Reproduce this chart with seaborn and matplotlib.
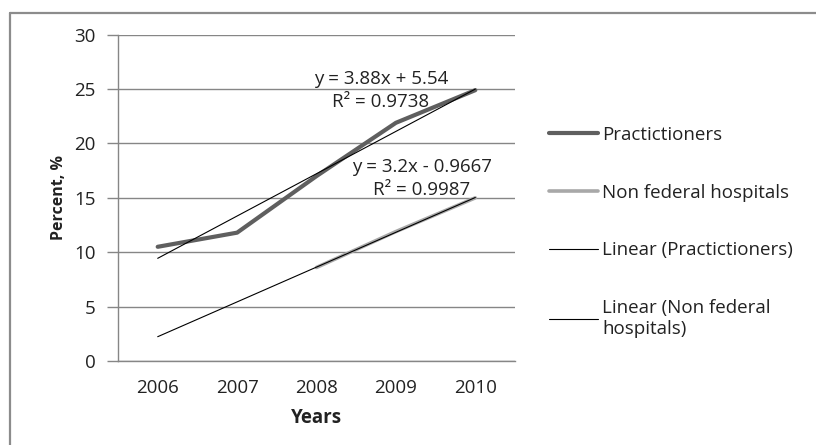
import numpy as np
import pandas as pd
import matplotlib
matplotlib.use("Agg")
import matplotlib.pyplot as plt
from matplotlib.lines import Line2D
import seaborn as sns

years = ["2006", "2007", "2008", "2009", "2010"]
practitioners = [10.5, 11.8, 17.0, 21.9, 24.9]
hospitals = [np.nan, np.nan, 8.6, 11.9, 15.0]
eq_practitioners = "y = 3.88x + 5.54\nR² = 0.9738"
eq_hospitals = "y = 3.2x - 0.9667\nR² = 0.9987"
y_ticks = [0, 5, 10, 15, 20, 25, 30]

sns.set_theme(style="white")
plt.rcParams["font.family"] = ["Open Sans", "DejaVu Sans"]

FS = 13.5
GRID = "#868686"
TXT = "#222222"

fig = plt.figure(figsize=(8.16, 4.45), dpi=100)
ax = fig.add_axes([118 / 816, 1 - 361 / 445, (515 - 118) / 816, (361 - 34.7) / 445])

pos = np.arange(len(years))
df = pd.DataFrame({"pos": pos, "Practictioners": practitioners,
                   "Non federal hospitals": hospitals})

sns.lineplot(data=df, x="pos", y="Practictioners", ax=ax, color="#5f5f5f",
             lw=3.0, solid_capstyle="round", zorder=3)
sns.lineplot(data=df.dropna(), x="pos", y="Non federal hospitals", ax=ax,
             color="#a8a8a8", lw=2.6, solid_capstyle="round", zorder=3)

# Linear trendlines fitted on x = 1..n (Excel category index)
xi = pos + 1
mask = ~np.isnan(np.array(hospitals))
cp = np.polyfit(xi, practitioners, 1)
ch = np.polyfit(xi[mask], np.array(hospitals)[mask], 1)
trend = pd.DataFrame({"pos": pos,
                      "tp": np.polyval(cp, xi),
                      "th": np.polyval(ch, xi)})
sns.lineplot(data=trend, x="pos", y="tp", ax=ax, color="black", lw=0.8, zorder=4)
sns.lineplot(data=trend, x="pos", y="th", ax=ax, color="black", lw=0.8, zorder=4)

ax.text(2.81, 24.85, eq_practitioners, ha="center", va="center", fontsize=FS,
        color=TXT, linespacing=1.35, zorder=5)
ax.text(3.33, 16.75, eq_hospitals, ha="center", va="center", fontsize=FS,
        color=TXT, linespacing=1.35, zorder=5)

ax.set_xlim(-0.5, len(years) - 0.5)
ax.set_ylim(0, 30)
ax.set_yticks(y_ticks)
ax.set_yticklabels([str(v) for v in y_ticks], fontsize=FS, color=TXT)
ax.set_xticks(pos)
ax.set_xticklabels(years, fontsize=FS, color=TXT)
ax.set_xticks(np.arange(-0.5, len(years), 1.0), minor=True)
ax.tick_params(axis="x", which="major", length=0, pad=13)
ax.tick_params(axis="x", which="minor", length=5, width=1, color=GRID, direction="out")
ax.tick_params(axis="y", which="major", length=8, width=1, color=GRID, direction="out", pad=8, left=True)
ax.yaxis.grid(True, color=GRID, lw=1)
ax.set_axisbelow(True)
for s in ["top", "right"]:
    ax.spines[s].set_visible(False)
for s in ["left", "bottom"]:
    ax.spines[s].set_color(GRID)
    ax.spines[s].set_linewidth(1)

ax.set_xlabel("Years", fontsize=13.5, fontweight="bold", color=TXT, labelpad=8)
ax.set_ylabel("Percent, %", fontsize=11.5, fontweight="bold", color=TXT, labelpad=5)

handles = [
    Line2D([], [], color="#5f5f5f", lw=3.0),
    Line2D([], [], color="#a8a8a8", lw=2.6),
    Line2D([], [], color="black", lw=0.8),
    Line2D([], [], color="black", lw=0.8),
]
labels = ["Practictioners", "Non federal hospitals", "Linear (Practictioners)",
          "Linear (Non federal\nhospitals)"]
ax.legend(handles, labels, loc="upper left", bbox_to_anchor=(549 / 816, 1 - 126 / 445),
          bbox_transform=fig.transFigure, frameon=False, fontsize=FS,
          handlelength=2.6, handletextpad=0.25, labelspacing=2.12, borderaxespad=0,
          borderpad=0, labelcolor=TXT)

# outer chart border (top and left visible)
fig.add_artist(Line2D([10 / 816, 10 / 816], [0, 1 - 12.5 / 445], transform=fig.transFigure,
                      color="#8c8c8c", lw=1.6))
fig.add_artist(Line2D([10 / 816, 1], [1 - 12.5 / 445, 1 - 12.5 / 445], transform=fig.transFigure,
                      color="#8c8c8c", lw=1.6))

fig.savefig("out.png", dpi=100)
